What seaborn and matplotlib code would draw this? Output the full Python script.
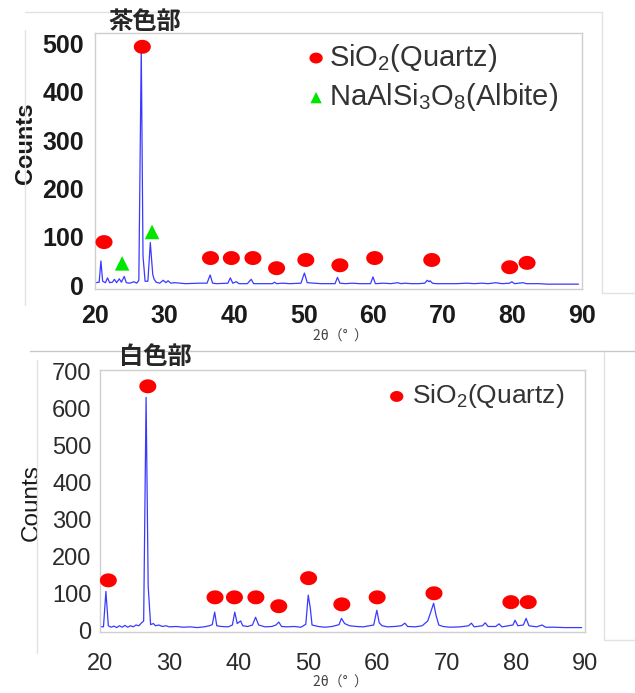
import matplotlib
matplotlib.use("Agg")
import matplotlib.pyplot as plt
import seaborn as sns
import numpy as np
from matplotlib.path import Path
from matplotlib.lines import Line2D

# ---- data ----
# upper pattern (茶色部)
two_theta_brown = [20.0, 20.6, 20.85, 21.1, 21.5, 21.8, 22.1, 22.5, 22.8, 23.1, 23.5, 23.8, 24.2, 24.5, 25.0,
                   25.6, 26.0, 26.3, 26.65, 26.9, 27.2, 27.6, 27.95, 28.3, 28.5, 28.8, 29.3, 29.8, 30.2, 30.5,
                   30.9, 31.5, 33.0, 35.0, 36.1, 36.55, 36.9, 37.5, 39.1, 39.45, 39.8, 40.3, 40.7, 41.9, 42.45,
                   42.8, 44.0, 45.5, 45.8, 46.1, 47.0, 48.0, 49.6, 50.1, 50.5, 51.5, 52.5, 54.5, 54.85, 55.2,
                   56.0, 57.0, 58.0, 59.6, 59.95, 60.3, 61.5, 62.5, 63.5, 64.0, 64.5, 65.5, 66.5, 67.4, 67.75,
                   68.0, 68.15, 68.5, 69.0, 70.0, 72.0, 73.5, 74.5, 75.6, 76.5, 77.6, 78.5, 79.6, 79.9, 80.3,
                   81.5, 82.0, 83.8, 85.0, 87.0, 89.5]
counts_brown = [5, 6, 50, 8, 5, 15, 5, 6, 12, 5, 13, 6, 18, 5, 4,
                7, 4, 10, 490, 60, 8, 8, 88, 22, 12, 6, 4, 10, 5, 9,
                4, 5, 3, 4, 4, 21, 4, 3, 4, 15, 4, 7, 3, 3, 12,
                3, 3, 3, 6, 3, 4, 3, 4, 25, 5, 4, 3, 3, 16, 4,
                3, 4, 3, 3, 17, 3, 4, 3, 5, 3, 4, 3, 3, 4, 10,
                7, 9, 4, 3, 3, 3, 4, 3, 4, 3, 5, 3, 4, 7, 3,
                5, 3, 3, 2, 2, 2]
quartz_brown_x = [21.3, 26.8, 36.6, 39.6, 42.7, 46.1, 50.3, 55.2, 60.2, 68.4, 79.6, 82.1]
quartz_brown_y = [89, 493, 56, 56, 56, 35, 52, 41, 56, 52, 37, 46]
albite_brown_x = [23.9, 28.2]
albite_brown_y = [45, 110]

# lower pattern (白色部)
two_theta_white = [20.0, 20.5, 20.85, 21.2, 21.6, 22.0, 22.4, 22.8, 23.2, 23.6, 24.0, 24.4, 24.8, 25.2, 25.6,
                   26.0, 26.3, 26.65, 26.95, 27.3, 27.7, 28.0, 28.5, 29.0, 29.5, 30.0, 31.0, 32.0, 33.0, 34.0,
                   35.0, 35.8, 36.2, 36.55, 36.85, 37.5, 38.5, 39.1, 39.45, 39.8, 40.3, 40.6, 41.3, 42.0, 42.45,
                   42.9, 43.8, 44.8, 45.4, 45.8, 46.2, 47.0, 48.0, 49.0, 49.7, 50.05, 50.35, 50.6, 51.5, 52.5,
                   53.5, 54.5, 54.85, 55.3, 56.0, 57.0, 58.0, 59.5, 59.95, 60.3, 60.7, 61.5, 62.5, 63.5, 64.0,
                   64.4, 65.5, 66.5, 67.3, 67.75, 68.15, 68.5, 68.9, 69.5, 70.5, 72.0, 73.2, 73.6, 74.0, 75.2,
                   75.6, 76.0, 77.1, 77.6, 78.0, 79.6, 79.9, 80.3, 81.1, 81.5, 81.9, 83.0, 83.8, 84.3, 85.5,
                   87.0, 89.5]
counts_white = [10, 9, 105, 12, 8, 11, 7, 12, 8, 13, 8, 12, 9, 14, 12,
                20, 25, 631, 120, 15, 18, 12, 14, 10, 12, 9, 10, 8, 9, 7,
                9, 12, 15, 49, 12, 10, 9, 14, 49, 18, 25, 12, 10, 14, 35,
                14, 9, 10, 14, 22, 10, 9, 10, 8, 16, 95, 60, 14, 10, 8,
                10, 15, 32, 18, 12, 10, 9, 14, 54, 20, 12, 9, 10, 12, 19,
                10, 9, 12, 25, 50, 73, 40, 14, 10, 8, 9, 12, 19, 9, 12,
                20, 10, 10, 17, 9, 14, 27, 12, 14, 32, 12, 9, 14, 8, 8,
                7, 7]
quartz_white_x = [21.2, 26.9, 36.6, 39.4, 42.5, 45.8, 50.1, 54.9, 60.0, 68.2, 79.3, 81.8]
quartz_white_y = [135, 661, 89, 89, 89, 65, 141, 70, 89, 100, 76, 76]

x_ticks = [20, 30, 40, 50, 60, 70, 80, 90]
quartz_label = "SiO$_2$(Quartz)"
albite_label = "NaAlSi$_3$O$_8$(Albite)"

# ---- style ----
sns.set_theme(style="white")
plt.rcParams["font.family"] = ["Liberation Sans", "Noto Sans CJK JP", "DejaVu Sans"]
plt.rcParams["mathtext.default"] = "regular"
jp = ["Noto Sans CJK JP", "DejaVu Sans"]

line_col = "#3a3aff"
red = "#ff0000"
green = "#00e600"

# slightly flattened circle like in the scanned figure
t = np.linspace(0, 2 * np.pi, 64)
oval = Path(np.column_stack([np.cos(t), 0.82 * np.sin(t)]), closed=True)

fig = plt.figure(figsize=(6.35, 6.93), dpi=100)
ax1 = fig.add_axes([0.1496, 0.583, 0.767, 0.369])
ax2 = fig.add_axes([0.1575, 0.088, 0.7638, 0.378])


def style_axes(ax, ymax, ylo, yhi, bold, size, xpad, ypad):
    ax.set_xlim(20, 90)
    ax.set_ylim(ylo, yhi)
    ax.set_xticks(x_ticks)
    ax.set_yticks(range(0, ymax + 1, 100))
    w = "bold" if bold else "normal"
    c = "#1a1a1a" if bold else "#2b2b2b"
    ax.tick_params(length=0, labelsize=size, colors=c)
    ax.tick_params(axis="x", pad=xpad)
    ax.tick_params(axis="y", pad=ypad)
    for lab in ax.get_xticklabels() + ax.get_yticklabels():
        lab.set_fontweight(w)
    for s in ax.spines.values():
        s.set_color("#cfcfcf")
        s.set_linewidth(1.0)
    ax.set_xlabel("")
    ax.set_ylabel("")


def make_legend(ax, anchor, size, pad, spacing):
    leg = ax.legend(loc="upper left", bbox_to_anchor=anchor, frameon=False, borderaxespad=0,
                    borderpad=0, handlelength=0.8, handletextpad=pad, labelspacing=spacing,
                    fontsize=size, markerscale=0.78)
    for txt in leg.get_texts():
        txt.set_color("#333333")
    return leg


# upper panel
sns.lineplot(x=two_theta_brown, y=counts_brown, ax=ax1, color=line_col, lw=0.9, sort=False)
sns.scatterplot(x=quartz_brown_x, y=quartz_brown_y, ax=ax1, marker=oval, s=150, color=red,
                edgecolor="none", label=quartz_label, zorder=3)
sns.scatterplot(x=albite_brown_x, y=albite_brown_y, ax=ax1, marker="^", s=110, color=green,
                edgecolor="none", label=albite_label, zorder=3)
style_axes(ax1, 500, -8, 521, True, 18, 11, 8)
ax1.text(-0.142, 0.57, "Counts", transform=ax1.transAxes, rotation=90, ha="center", va="center",
         fontsize=17, color="#1a1a1a", fontweight="bold")
ax1.text(0.503, -0.185, "2θ（°  ）", transform=ax1.transAxes, ha="center", va="center",
         fontsize=10, color="#444444", family=jp)
make_legend(ax1, (0.43, 0.967), 21, 0.05, 0.26)

# lower panel
sns.lineplot(x=two_theta_white, y=counts_white, ax=ax2, color=line_col, lw=0.9, sort=False)
sns.scatterplot(x=quartz_white_x, y=quartz_white_y, ax=ax2, marker=oval, s=150, color=red,
                edgecolor="none", label=quartz_label, zorder=3)
style_axes(ax2, 700, -5, 705, False, 17, 15, 6)
ax2.text(-0.14, 0.496, "Counts", transform=ax2.transAxes, rotation=90, ha="center", va="center",
         fontsize=17.5, color="#1a1a1a")
ax2.text(0.495, -0.195, "2θ（°  ）", transform=ax2.transAxes, ha="center", va="center",
         fontsize=10, color="#444444", family=jp)
make_legend(ax2, (0.59, 0.953), 19, 0.18, 0.3)

# panel titles
fig.text(145 / 635, 1 - 22 / 693, "茶色部", ha="center", va="center", fontsize=17.5, fontweight="bold",
         family=jp)
fig.text(155 / 635, 1 - 357 / 693, "白色部", ha="center", va="center", fontsize=17.5, fontweight="bold",
         family=jp)

# faint frames of the pasted screenshots
W, H = 635, 693


def fline(x0, y0, x1, y1, c="#e2e2e2"):
    fig.add_artist(Line2D([x0 / W, x1 / W], [1 - y0 / H, 1 - y1 / H], color=c, lw=1))


fline(25, 12, 602, 12)
fline(25, 30, 25, 305)
fline(602, 12, 602, 293)
fline(602, 293, 635, 293)
fline(30, 351, 635, 351, "#c8c8c8")
fline(37, 360, 37, 653)
fline(604, 352, 604, 640)
fline(604, 640, 635, 640)

fig.savefig("out.png", dpi=100)
